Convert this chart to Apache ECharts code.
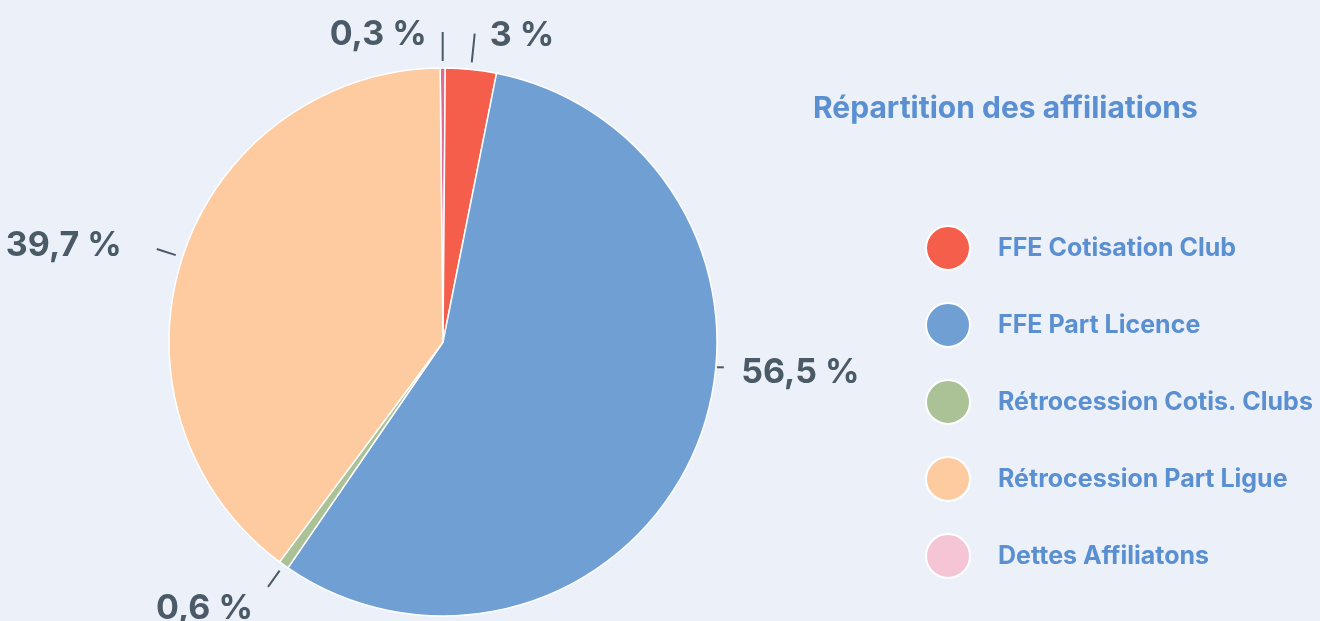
<!DOCTYPE html>
<html>
<head>
<meta charset="utf-8">
<script src="https://cdn.jsdelivr.net/npm/echarts@6/dist/echarts.min.js"></script>
<style>
  html, body { margin: 0; background: #ebf0f9; }
  #chart { width: 1320px; height: 621px; }
</style>
</head>
<body>
<div id="chart"></div>
<script>
  // slices, clockwise from the top of the pie
  const names = ['Dettes Affiliatons', 'FFE Cotisation Club', 'FFE Part Licence', 'Rétrocession Cotis. Clubs', 'Rétrocession Part Ligue'];
  const shares = [0.3, 3, 56.5, 0.6, 39.7];
  const shareLabels = ['0,3 %', '3 %', '56,5 %', '0,6 %', '39,7 %'];
  const colors = ['#e06b95', '#f45e4b', '#709fd3', '#abc296', '#fecba1'];
  // legend order and swatch colours
  const legendNames = ['FFE Cotisation Club', 'FFE Part Licence', 'Rétrocession Cotis. Clubs', 'Rétrocession Part Ligue', 'Dettes Affiliatons'];
  const legendColors = ['#f45e4b', '#709fd3', '#abc296', '#fecba1', '#f5c5d6'];

  const FONT = 'Inter, Lato, sans-serif';
  const LABEL_COLOR = '#4b5a67';
  const BLUE_TEXT = '#5a8fd1';

  const CENTER = [443, 342];
  const RADIUS = 274;

  // per slice label tweaks (line length, gap to text, vertical shift)
  const lineLen = [29, 29, 8, 20, 20];
  const textGap = [16, 15, 32, 15, 35];
  const shiftY = [3, 2, -82, 22, -3];

  const chart = echarts.init(document.getElementById('chart'));

  const pieBase = {
    type: 'pie',
    center: CENTER,
    startAngle: 90.6,
    clockwise: true,
    avoidLabelOverlap: false,
    animation: false,
  };

  /** shifts labels; the big blue one is lifted and gets a short dash on the rim beside it */
  const layoutLabel = p => {
    const dy = shiftY[p.dataIndex];
    if (p.dataIndex !== 2) {
      return dy ? { dy } : {};
    }
    const ly = p.labelRect.y + p.labelRect.height / 2 + dy - 5;
    const ex = CENTER[0] + Math.sqrt(RADIUS * RADIUS - (ly - CENTER[1]) ** 2);
    return {
      dy,
      labelLinePoints: [[ex + 1, ly], [ex + 8, ly], [ex + 8, ly]],
    };
  };

  const option = {
    backgroundColor: '#ebf0f9',
    animation: false,
    title: {
      text: 'Répartition des affiliations',
      left: 813,
      top: 94,
      padding: 0,
      textStyle: { fontFamily: FONT, fontSize: 30, fontWeight: 'bold', color: BLUE_TEXT },
    },
    legend: {
      orient: 'vertical',
      left: 925,
      top: 225,
      padding: 0,
      icon: 'circle',
      itemWidth: 44,
      itemHeight: 44,
      itemGap: 31,
      data: legendNames.map((n, i) => ({ name: n, itemStyle: { color: legendColors[i] } })),
      textStyle: { fontFamily: FONT, fontSize: 25, fontWeight: 'bold', color: BLUE_TEXT, padding: [26, 0, 0, 23] },
    },
    series: [
      {
        ...pieBase,
        name: 'slices',
        radius: RADIUS,
        label: { show: false },
        labelLine: { show: false },
        itemStyle: { borderColor: '#ffffff', borderWidth: 1.5 },
        data: names.map((n, i) => ({ name: n, value: shares[i], itemStyle: { color: colors[i] } })),
      },
      {
        // transparent copy that only carries the outside labels, a bit off the edge
        ...pieBase,
        name: 'labels',
        radius: RADIUS + 7,
        silent: true,
        itemStyle: { color: 'rgba(0,0,0,0)' },
        label: {
          show: true,
          position: 'outside',
          formatter: p => shareLabels[p.dataIndex],
          fontFamily: FONT,
          fontSize: 34,
          fontWeight: 'bold',
          color: LABEL_COLOR,
        },
        labelLine: { show: true, length2: 0, lineStyle: { color: LABEL_COLOR, width: 2 } },
        labelLayout: layoutLabel,
        data: names.map((n, i) => ({
          name: n,
          value: shares[i],
          label: { distanceToLabelLine: textGap[i] },
          labelLine: { length: lineLen[i] },
        })),
      },
    ],
  };

  chart.setOption(option);
  window.addEventListener('resize', () => chart.resize());
</script>
</body>
</html>
